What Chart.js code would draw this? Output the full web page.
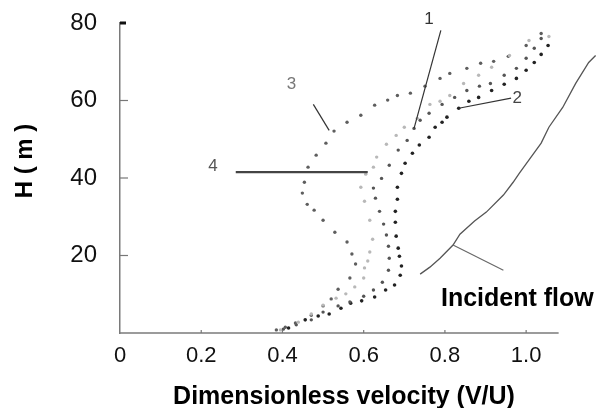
<!DOCTYPE html>
<html>
<head>
<meta charset="utf-8">
<script src="https://cdn.jsdelivr.net/npm/chart.js@4/dist/chart.umd.min.js"></script>
<style>
  html, body { margin: 0; padding: 0; background: #fff; }
  #wrap { width: 600px; height: 408px; }
</style>
</head>
<body>
<div id="wrap"><canvas id="profileChart" width="600" height="408"></canvas></div>
<script>
// velocity (V/U) and height H (m), one pair of arrays per profile
const v1 = [0.402,0.434,0.471,0.500,0.537,0.566,0.600,0.624,0.646,0.661,0.663,0.661,0.656,0.649,0.639,0.629,0.624,0.644,0.663,0.685,0.707,0.724,0.739,0.761,0.793,0.824,0.854,0.885,0.912,0.946,0.976,1.000,1.020,1.037];
const h1 = [1.0,2.1,3.4,5.4,7.0,8.0,9.5,11.1,13.1,16.2,19.3,22.4,25.3,28.1,31.4,34.8,37.4,39.9,43.3,47.2,49.7,52.8,54.9,56.7,59.0,60.8,62.6,63.7,64.4,66.5,68.3,70.9,73.5,76.0];

const v2 = [0.415,0.456,0.488,0.515,0.544,0.568,0.595,0.627,0.654,0.676,0.690,0.693,0.688,0.685,0.680,0.678,0.678,0.683,0.683,0.693,0.702,0.720,0.737,0.761,0.776,0.793,0.805,0.834,0.859,0.883,0.915,0.946,0.976,1.000,1.020,1.037,1.054];
const h2 = [1.3,3.4,4.4,4.9,6.4,7.7,8.3,9.3,11.1,12.4,14.9,17.3,19.8,21.9,25.0,28.6,31.4,34.5,37.6,41.2,43.8,46.4,48.5,50.5,53.1,54.4,55.7,58.0,59.8,60.8,62.6,64.2,65.7,67.8,69.8,71.9,74.2];

const v3 = [0.385,0.407,0.432,0.471,0.500,0.520,0.537,0.566,0.580,0.571,0.559,0.529,0.500,0.478,0.461,0.449,0.454,0.463,0.483,0.507,0.527,0.559,0.593,0.627,0.659,0.683,0.715,0.751,0.788,0.812,0.854,0.888,0.920,0.956,1.000,1.037];
const h3 = [0.8,1.5,2.6,4.6,7.0,8.8,11.3,14.2,17.8,20.4,23.5,26.0,29.1,31.7,33.2,36.1,38.9,42.8,45.9,49.0,52.1,54.4,56.2,58.8,60.1,61.3,61.9,63.7,65.7,67.0,68.3,69.6,70.1,71.4,74.2,77.3];

const v4 = [0.395,0.439,0.471,0.500,0.532,0.556,0.578,0.600,0.602,0.610,0.615,0.622,0.615,0.602,0.593,0.605,0.624,0.632,0.656,0.680,0.700,0.732,0.763,0.788,0.812,0.846,0.883,0.915,0.959,1.007,1.056];
const h4 = [0.8,2.8,4.9,7.2,9.0,10.1,11.9,14.2,16.8,18.6,20.9,24.2,29.1,34.0,37.6,41.0,42.8,45.4,48.7,51.0,53.1,55.4,59.0,59.8,61.3,64.4,66.5,68.6,71.6,75.5,76.5];

// incident flow profile
const vInc = [0.739,0.763,0.788,0.820,0.837,0.873,0.902,0.944,0.968,0.983,1.012,1.037,1.056,1.090,1.122,1.154,1.171];
const hInc = [15.2,17.0,19.3,22.7,25.5,28.9,31.2,35.6,38.9,41.2,45.4,49.0,53.1,58.2,64.4,69.8,71.6];

const xTicks = [0, 0.2, 0.4, 0.6, 0.8, 1.0];
const yTicks = [20, 40, 60, 80];
const xAxisEnd = 1.08; // drawn x axis stops here, the incident line runs past it

// callout leaders + labels, in data units
const leaders = [
  { from: [0.790, 78.1], to: [0.724, 52.8], w: 1.2, c: '#333' },   // 1
  { from: [0.963, 60.6], to: [0.834, 58.0], w: 1.2, c: '#333' },   // 2
  { from: [0.476, 59.0], to: [0.515, 52.3], w: 1.2, c: '#333' },   // 3
  { from: [0.285, 41.5], to: [0.610, 41.5], w: 2.2, c: '#444' },   // 4
  { from: [0.820, 22.7], to: [0.944, 16.2], w: 1.1, c: '#666' }    // incident flow
];
const callouts = [
  { text: '1', at: [0.761, 81.0], color: '#333' },
  { text: '2', at: [0.978, 60.6], color: '#444' },
  { text: '3', at: [0.422, 64.2], color: '#777' },
  { text: '4', at: [0.229, 43.0], color: '#555' }
];

function pts(xs, ys) { return xs.map((x, i) => ({ x: x, y: ys[i] })); }

const overlay = {
  id: 'overlay',
  afterDraw(chart) {
    const ctx = chart.ctx;
    const x = chart.scales.x, y = chart.scales.y;
    ctx.save();
    // x axis line (shorter than the plot area)
    ctx.strokeStyle = '#7a7a7a';
    ctx.lineWidth = 1.5;
    ctx.beginPath();
    ctx.moveTo(x.left, y.bottom);
    ctx.lineTo(x.getPixelForValue(xAxisEnd), y.bottom);
    ctx.stroke();
    // inner tick marks on y axis
    ctx.strokeStyle = '#777';
    ctx.lineWidth = 1.2;
    yTicks.forEach(v => {
      const py = y.getPixelForValue(v);
      if (v === 80) {
        ctx.fillStyle = '#111';
        ctx.fillRect(x.left, py - 1.5, 6, 3);
      } else {
        ctx.beginPath(); ctx.moveTo(x.left, py); ctx.lineTo(x.left + 8, py); ctx.stroke();
      }
    });
    // small tick marks on x axis
    xTicks.forEach(v => {
      if (v === 0) return;
      const px = x.getPixelForValue(v);
      ctx.beginPath(); ctx.moveTo(px, y.bottom); ctx.lineTo(px, y.bottom - 3); ctx.stroke();
    });
    // leaders
    leaders.forEach(l => {
      ctx.strokeStyle = l.c;
      ctx.lineWidth = l.w;
      ctx.beginPath();
      ctx.moveTo(x.getPixelForValue(l.from[0]), y.getPixelForValue(l.from[1]));
      ctx.lineTo(x.getPixelForValue(l.to[0]), y.getPixelForValue(l.to[1]));
      ctx.stroke();
    });
    ctx.font = '17px "Liberation Sans", Arial, sans-serif';
    ctx.textAlign = 'center';
    ctx.textBaseline = 'middle';
    callouts.forEach(c => {
      ctx.fillStyle = c.color;
      ctx.fillText(c.text, x.getPixelForValue(c.at[0]), y.getPixelForValue(c.at[1]));
    });
    // incident flow label
    ctx.fillStyle = '#000';
    ctx.font = 'bold 25px "Liberation Sans", Arial, sans-serif';
    ctx.textAlign = 'left';
    ctx.textBaseline = 'alphabetic';
    ctx.fillText('Incident flow', 441, 306);
    // axis titles
    ctx.textAlign = 'center';
    ctx.fillText('Dimensionless velocity (V/U)', 344, 404);
    ctx.translate(32, 161);
    ctx.rotate(-Math.PI / 2);
    ctx.font = 'bold 24px "Liberation Sans", Arial, sans-serif';
    ctx.fillText('H ( m )', 0, 0);
    ctx.restore();
  }
};

const dot = (color, r) => ({ showLine: false, pointRadius: r, pointBorderWidth: 0, pointBackgroundColor: color, borderColor: color });

new Chart(document.getElementById('profileChart'), {
  type: 'scatter',
  data: {
    datasets: [
      Object.assign({ label: '4', data: pts(v4, h4) }, dot('#b8b8b8', 1.7)),
      Object.assign({ label: '3', data: pts(v3, h3) }, dot('#5e5e5e', 1.7)),
      Object.assign({ label: '1', data: pts(v1, h1) }, dot('#555', 1.7)),
      Object.assign({ label: '2', data: pts(v2, h2) }, dot('#222', 1.8)),
      {
        label: 'Incident flow',
        data: pts(vInc, hInc),
        showLine: true,
        pointRadius: 0,
        borderColor: '#555',
        borderWidth: 1.3,
        tension: 0,
        clip: false
      }
    ]
  },
  options: {
    responsive: false,
    animation: false,
    layout: { padding: { top: 23, right: 0, left: 0, bottom: 0 } },
    plugins: { legend: { display: false }, tooltip: { enabled: false } },
    scales: {
      x: {
        type: 'linear', min: 0, max: 1.172,
        afterFit(s) { s.height = 75; s.paddingLeft = 0; s.paddingRight = 0; },
        afterBuildTicks(s) { s.ticks = xTicks.map(v => ({ value: v })); },
        grid: { display: false, drawTicks: false },
        border: { display: false },
        ticks: {
          padding: 10, color: '#111',
          font: { family: '"Liberation Sans", Arial, sans-serif', size: 22 },
          callback: v => (v === 0 ? '0' : v.toFixed(1))
        }
      },
      y: {
        type: 'linear', min: 0, max: 80,
        afterFit(s) { s.width = 120; s.paddingTop = 0; s.paddingBottom = 0; },
        afterBuildTicks(s) { s.ticks = yTicks.map(v => ({ value: v })); },
        grid: { display: false, drawTicks: false },
        border: { display: true, color: '#7a7a7a', width: 1.5 },
        ticks: {
          padding: 23, color: '#111',
          font: { family: '"Liberation Sans", Arial, sans-serif', size: 24 }
        }
      }
    }
  },
  plugins: [overlay]
});
</script>
</body>
</html>
